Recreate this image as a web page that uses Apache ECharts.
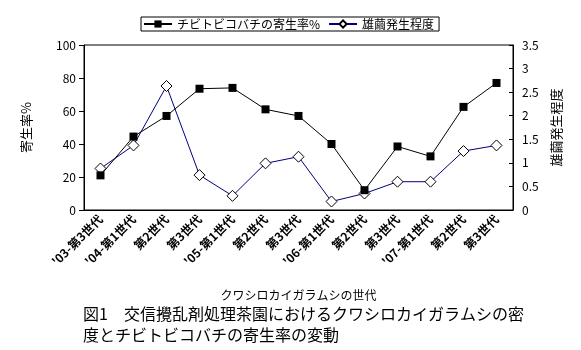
<!DOCTYPE html>
<html>
<head>
<meta charset="utf-8">
<script src="https://cdn.jsdelivr.net/npm/echarts@6/dist/echarts.min.js"></script>
<style>
html,body{margin:0;padding:0;background:#fff;}
#chart{width:581px;height:350px;}
</style>
</head>
<body>
<div id="chart"></div>
<script>
var categories = ["'03-第3世代", "'04-第1世代", "第2世代", "第3世代", "'05-第1世代", "第2世代", "第3世代", "'06-第1世代", "第2世代", "第3世代", "'07-第1世代", "第2世代", "第3世代"];
var parasitismRate = [21, 44.5, 57, 73.5, 74, 61, 57, 40, 12, 38.5, 32.5, 62.5, 77];
var maleCocoonLevel = [0.88, 1.37, 2.63, 0.74, 0.30, 0.99, 1.13, 0.18, 0.35, 0.60, 0.60, 1.25, 1.37];
var seriesNames = ["チビトビコバチの寄生率%", "雄繭発生程度"];
var leftTicks = {min: 0, max: 100, interval: 20};
var rightTicks = {min: 0, max: 3.5, interval: 0.5};
var xAxisTitle = "クワシロカイガラムシの世代";
var leftAxisTitle = "寄生率%";
var rightAxisTitle = "雄繭発生程度";
var captionLines = ["図1　交信攪乱剤処理茶園におけるクワシロカイガラムシの密", "度とチビトビコバチの寄生率の変動"];

var FONT = '"Noto Sans CJK JP", "Noto Sans", sans-serif';
var chart = echarts.init(document.getElementById('chart'), null, {renderer: 'canvas'});
chart.setOption({
  animation: false,
  backgroundColor: '#fff',
  textStyle: {fontFamily: FONT, color: '#000'},
  grid: {left: 84, right: 68, top: 45, bottom: 140, show: true, borderColor: '#000', borderWidth: 1, containLabel: false},
  legend: {
    left: 141, top: 17,
    padding: [1, 5, 1, 2],
    borderColor: '#000', borderWidth: 1,
    itemWidth: 28, itemHeight: 9, itemGap: 8,
    textStyle: {fontSize: 12, fontFamily: FONT, color: '#000'},
    data: seriesNames
  },
  xAxis: {
    type: 'category',
    data: categories,
    boundaryGap: true,
    name: xAxisTitle,
    nameLocation: 'middle',
    nameGap: 79,
    nameTextStyle: {fontSize: 12, color: '#000', fontFamily: FONT},
    axisLine: {lineStyle: {color: '#000', width: 1}},
    axisTick: {inside: true, length: 4, lineStyle: {color: '#000'}},
    axisLabel: {rotate: 45, interval: 0, fontSize: 12, fontWeight: 'bold', color: '#000', margin: 7, fontFamily: FONT},
    splitLine: {show: false}
  },
  yAxis: [{
    type: 'value',
    min: leftTicks.min, max: leftTicks.max, interval: leftTicks.interval,
    name: leftAxisTitle,
    nameLocation: 'middle',
    nameRotate: 90,
    nameGap: 51,
    nameTextStyle: {fontSize: 13, color: '#000', fontFamily: FONT},
    axisLine: {show: true, lineStyle: {color: '#000', width: 1}},
    axisTick: {show: true, inside: false, length: 5, lineStyle: {color: '#000'}},
    axisLabel: {fontSize: 12, color: '#000', margin: 8, fontFamily: FONT},
    splitLine: {show: false}
  }, {
    type: 'value',
    position: 'right',
    min: rightTicks.min, max: rightTicks.max, interval: rightTicks.interval,
    name: rightAxisTitle,
    nameLocation: 'middle',
    nameRotate: 90,
    nameGap: 27,
    nameTextStyle: {fontSize: 13, color: '#000', fontFamily: FONT},
    axisLine: {show: true, lineStyle: {color: '#000', width: 1}},
    axisTick: {show: true, inside: true, length: 4, lineStyle: {color: '#000'}},
    axisLabel: {fontSize: 12, color: '#000', margin: 9, fontFamily: FONT},
    splitLine: {show: false}
  }],
  series: [{
    name: seriesNames[0],
    type: 'line',
    yAxisIndex: 0,
    data: parasitismRate,
    symbol: 'rect',
    symbolSize: 8,
    itemStyle: {color: '#000', borderColor: '#000', borderWidth: 0},
    lineStyle: {color: '#000', width: 1},
    z: 3
  }, {
    name: seriesNames[1],
    type: 'line',
    yAxisIndex: 1,
    data: maleCocoonLevel,
    symbol: 'diamond',
    symbolSize: [11, 11],
    itemStyle: {color: '#fff', borderColor: '#000', borderWidth: 1},
    lineStyle: {color: '#000080', width: 1},
    z: 2
  }],
  graphic: [{
    type: 'text', left: 83, top: 306,
    style: {text: captionLines[0], font: '16px ' + FONT, fill: '#000'}
  }, {
    type: 'text', left: 83, top: 327,
    style: {text: captionLines[1], font: '16px ' + FONT, fill: '#000'}
  }]
});
</script>
</body>
</html>
